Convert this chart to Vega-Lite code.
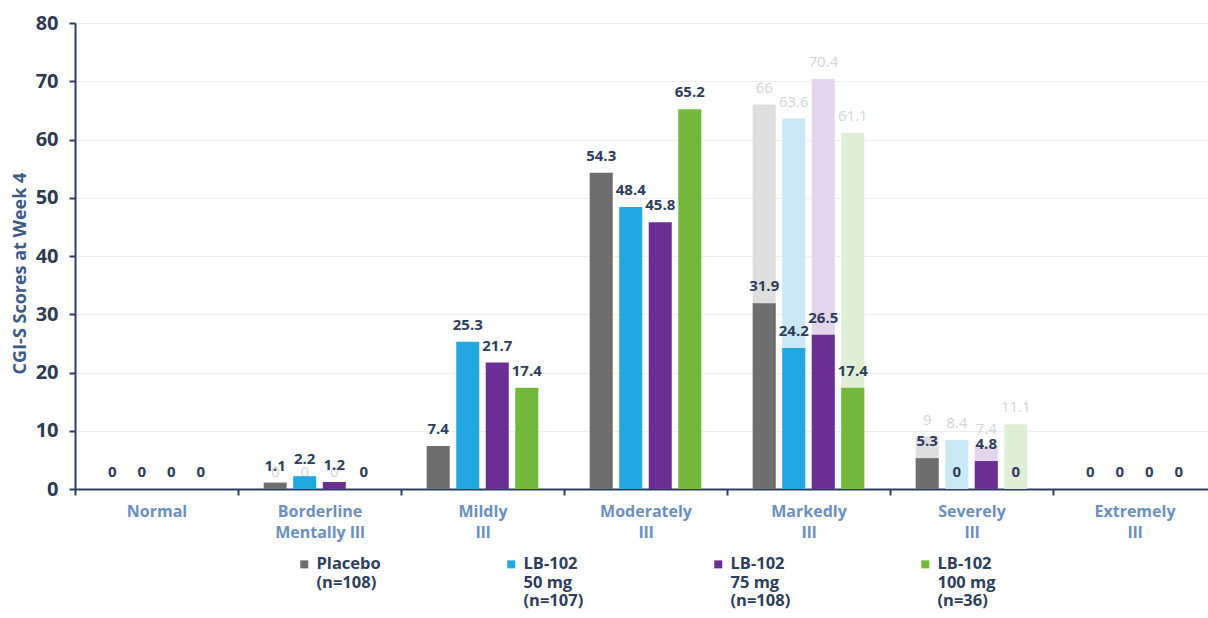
{
  "$schema": "https://vega.github.io/schema/vega-lite/v6.json",
  "width": 1133,
  "height": 466,
  "autosize": {"type": "none"},
  "padding": {"left": 75, "top": 23, "right": 0, "bottom": 129},
  "background": "white",
  "config": {
    "font": "Open Sans",
    "view": {"stroke": null},
    "axisY": {
      "domainColor": "#2d3f5e",
      "domainWidth": 2,
      "tickColor": "#2d3f5e",
      "tickWidth": 2,
      "tickSize": 6,
      "labelFont": "Open Sans",
      "labelFontSize": 20,
      "labelFontWeight": "bold",
      "labelColor": "#2d3a52",
      "labelPadding": 11,
      "gridColor": "#ededed",
      "gridWidth": 1,
      "titleFont": "Open Sans",
      "titleFontSize": 18,
      "titleFontWeight": "bold",
      "titleColor": "#3c5b87",
      "titlePadding": 6,
      "titleY": 250
    },
    "axisX": {
      "domainColor": "#2d3f5e",
      "domainWidth": 2,
      "tickColor": "#2d3f5e",
      "tickWidth": 2,
      "tickSize": 6,
      "tickBand": "extent",
      "grid": false,
      "labelFont": "Open Sans",
      "labelFontSize": 16,
      "labelFontWeight": "bold",
      "labelColor": "#6b8fbf",
      "labelPadding": 8,
      "labelLineHeight": 21,
      "labelAngle": 0,
      "title": null
    }
  },
  "data": {
    "values": [
      {"severity": "Normal", "group": "Placebo|(n=108)|", "baseline": 0, "week4": 0},
      {"severity": "Normal", "group": "LB-102|50 mg|(n=107)", "baseline": 0, "week4": 0},
      {"severity": "Normal", "group": "LB-102|75 mg|(n=108)", "baseline": 0, "week4": 0},
      {"severity": "Normal", "group": "LB-102|100 mg|(n=36)", "baseline": 0, "week4": 0},
      {"severity": "Borderline|Mentally Ill", "group": "Placebo|(n=108)|", "baseline": 0, "week4": 1.1},
      {"severity": "Borderline|Mentally Ill", "group": "LB-102|50 mg|(n=107)", "baseline": 0, "week4": 2.2},
      {"severity": "Borderline|Mentally Ill", "group": "LB-102|75 mg|(n=108)", "baseline": 0, "week4": 1.2},
      {"severity": "Borderline|Mentally Ill", "group": "LB-102|100 mg|(n=36)", "baseline": 0, "week4": 0},
      {"severity": "Mildly|Ill", "group": "Placebo|(n=108)|", "baseline": null, "week4": 7.4},
      {"severity": "Mildly|Ill", "group": "LB-102|50 mg|(n=107)", "baseline": null, "week4": 25.3},
      {"severity": "Mildly|Ill", "group": "LB-102|75 mg|(n=108)", "baseline": null, "week4": 21.7},
      {"severity": "Mildly|Ill", "group": "LB-102|100 mg|(n=36)", "baseline": null, "week4": 17.4},
      {"severity": "Moderately|Ill", "group": "Placebo|(n=108)|", "baseline": null, "week4": 54.3},
      {"severity": "Moderately|Ill", "group": "LB-102|50 mg|(n=107)", "baseline": null, "week4": 48.4},
      {"severity": "Moderately|Ill", "group": "LB-102|75 mg|(n=108)", "baseline": null, "week4": 45.8},
      {"severity": "Moderately|Ill", "group": "LB-102|100 mg|(n=36)", "baseline": null, "week4": 65.2},
      {"severity": "Markedly|Ill", "group": "Placebo|(n=108)|", "baseline": 66, "week4": 31.9},
      {"severity": "Markedly|Ill", "group": "LB-102|50 mg|(n=107)", "baseline": 63.6, "week4": 24.2},
      {"severity": "Markedly|Ill", "group": "LB-102|75 mg|(n=108)", "baseline": 70.4, "week4": 26.5},
      {"severity": "Markedly|Ill", "group": "LB-102|100 mg|(n=36)", "baseline": 61.1, "week4": 17.4},
      {"severity": "Severely|Ill", "group": "Placebo|(n=108)|", "baseline": 9, "week4": 5.3},
      {"severity": "Severely|Ill", "group": "LB-102|50 mg|(n=107)", "baseline": 8.4, "week4": 0},
      {"severity": "Severely|Ill", "group": "LB-102|75 mg|(n=108)", "baseline": 7.4, "week4": 4.8},
      {"severity": "Severely|Ill", "group": "LB-102|100 mg|(n=36)", "baseline": 11.1, "week4": 0},
      {"severity": "Extremely|Ill", "group": "Placebo|(n=108)|", "baseline": null, "week4": 0},
      {"severity": "Extremely|Ill", "group": "LB-102|50 mg|(n=107)", "baseline": null, "week4": 0},
      {"severity": "Extremely|Ill", "group": "LB-102|75 mg|(n=108)", "baseline": null, "week4": 0},
      {"severity": "Extremely|Ill", "group": "LB-102|100 mg|(n=36)", "baseline": null, "week4": 0}
    ]
  },
  "encoding": {
    "x": {
      "field": "severity",
      "type": "nominal",
      "sort": ["Normal", "Borderline|Mentally Ill", "Mildly|Ill", "Moderately|Ill", "Markedly|Ill", "Severely|Ill", "Extremely|Ill"],
      "scale": {"paddingInner": 0, "paddingOuter": 0, "range": [0, 1141]},
      "axis": {"labelExpr": "split(datum.label, '|')"}
    },
    "xOffset": {
      "field": "group",
      "type": "nominal",
      "sort": ["Placebo|(n=108)|", "LB-102|50 mg|(n=107)", "LB-102|75 mg|(n=108)", "LB-102|100 mg|(n=36)"],
      "scale": {"paddingInner": 0.22, "paddingOuter": 0.87}
    }
  },
  "layer": [
    {
      "transform": [{"filter": "isValid(datum.baseline)"}],
      "mark": {"type": "bar"},
      "encoding": {
        "y": {"field": "baseline", "type": "quantitative", "title": "CGI-S Scores at Week 4", "scale": {"domain": [0, 80]}, "axis": {"values": [0, 10, 20, 30, 40, 50, 60, 70, 80]}},
        "color": {
          "field": "group",
          "type": "nominal",
          "sort": ["Placebo|(n=108)|", "LB-102|50 mg|(n=107)", "LB-102|75 mg|(n=108)", "LB-102|100 mg|(n=36)"],
          "scale": {"range": ["#dedede", "#cbe8f6", "#e3d5eb", "#e1eed6"]},
          "legend": null
        }
      }
    },
    {
      "transform": [{"filter": "isValid(datum.baseline)"}],
      "mark": {"type": "text", "baseline": "bottom", "dy": -9, "fontSize": 15, "fontWeight": "normal", "color": "#cfd4dc"},
      "encoding": {
        "y": {"field": "baseline", "type": "quantitative", "title": "CGI-S Scores at Week 4"},
        "text": {"field": "baseline", "type": "quantitative"}
      }
    },
    {
      "mark": {"type": "bar"},
      "encoding": {
        "y": {"field": "week4", "type": "quantitative", "title": "CGI-S Scores at Week 4"},
        "color": {
          "field": "group",
          "type": "nominal",
          "sort": ["Placebo|(n=108)|", "LB-102|50 mg|(n=107)", "LB-102|75 mg|(n=108)", "LB-102|100 mg|(n=36)"],
          "scale": {"range": ["#6e6e6e", "#22a8e1", "#6a2f92", "#73b83d"]},
          "legend": {
            "title": null,
            "orient": "none",
            "legendX": 221,
            "legendY": 533,
            "direction": "horizontal",
            "columns": 4,
            "gridAlign": "all",
            "columnPadding": 122,
            "symbolType": "square",
            "symbolSize": 64,
            "symbolStrokeWidth": 0,
            "labelFont": "Open Sans",
            "labelFontSize": 16.5,
            "labelFontWeight": "bold",
            "labelColor": "#2e3e5c",
            "labelLineHeight": 19,
            "labelBaseline": "top",
            "labelOffset": 4,
            "labelLimit": 200,
            "labelExpr": "split(datum.label, '|')",
            "encode": {"labels": {"update": {"dy": {"value": -8}}}}
          }
        }
      }
    },
    {
      "mark": {"type": "text", "baseline": "bottom", "dy": -9, "fontSize": 15, "fontWeight": "bold", "color": "#2e3e5c"},
      "encoding": {
        "y": {"field": "week4", "type": "quantitative", "title": "CGI-S Scores at Week 4"},
        "text": {"field": "week4", "type": "quantitative"}
      }
    }
  ],
  "resolve": {"scale": {"color": "independent"}}
}
